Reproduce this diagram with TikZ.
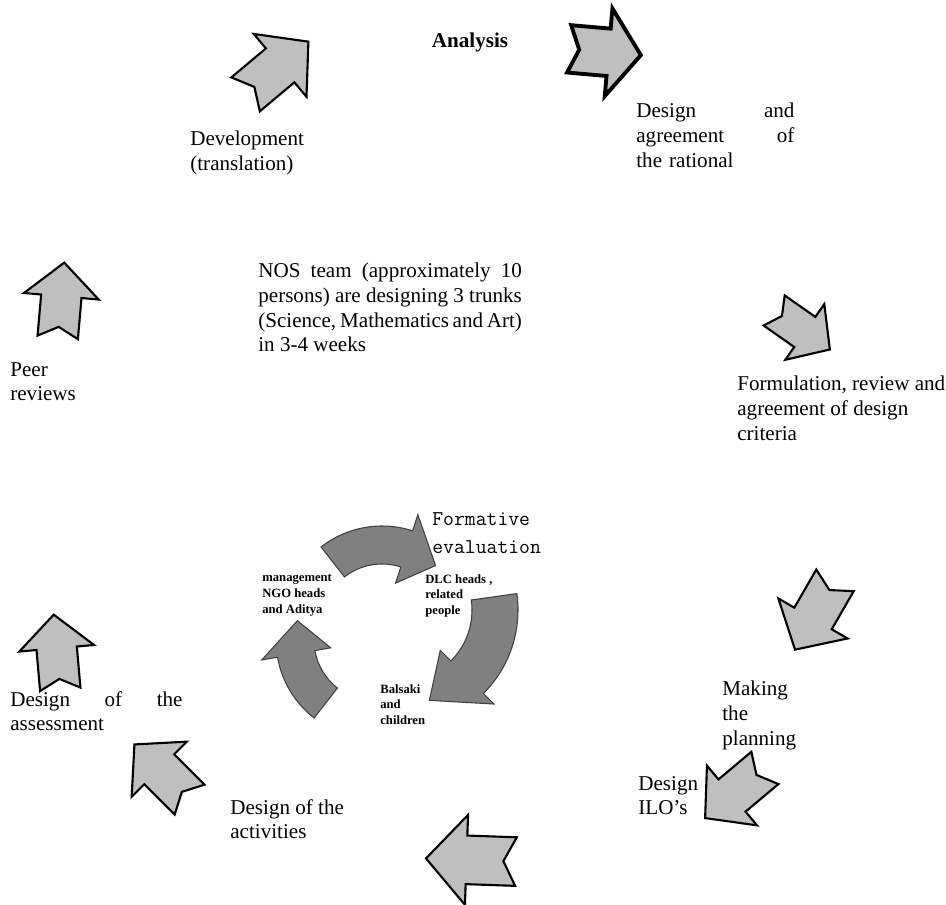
\documentclass[tikz,border=0pt]{standalone}
\usepackage{fontspec}
\setmainfont{Liberation Serif}
\usetikzlibrary{positioning}

% block arrow with a short notched shaft, pointing along +x
\tikzset{
  stubarrow/.pic={
    \path[pic actions] (0.5,0) -- (0.05,0.5) -- (0.05,0.27) -- (-0.5,0.27)
      -- (-0.36,0) -- (-0.5,-0.27) -- (0.05,-0.27) -- (0.05,-0.5) -- cycle;
  },
  steptext/.style={anchor=north west, inner sep=0pt, font=\fontsize{12}{14}\selectfont},
  tinytext/.style={anchor=north west, inner sep=0pt, align=left, font=\fontsize{7.2}{9}\selectfont\bfseries},
  lightarrow/.style={draw=black, line width=1.2pt, fill=black!25, line join=miter},
  darkarrow/.style={draw=black!75, line width=0.6pt, fill=black!50},
}

% curved band arrow: cx, cy, radius, half width, start, end, head half width, tip angle
\newcommand\cyclearrow[8]{%
  \draw[darkarrow, shift={(#1,-#2)}] ({#5}:{#3+#4}) arc[start angle=#5, end angle=#6, radius=#3+#4]
    -- ({#6}:{#3+#7}) -- ({#8}:{#3}) -- ({#6}:{#3-#7}) -- ({#6}:{#3-#4})
    arc[start angle=#6, end angle=#5, radius=#3-#4] -- cycle;}

\begin{document}
\begin{tikzpicture}[x=0.02cm, y=0.02cm]
\useasboundingbox (0,0) rectangle (946,-905);

% outer cycle
\node[steptext, anchor=center, font=\fontsize{12}{14}\selectfont\bfseries] (analysis) at (470,-42) {Analysis};
\node[steptext, text width=90pt, align=left] (rational) at (636,-103) {Design\hfill and\\agreement\hfill of\\the rational};
\node[steptext, align=left] (development) at (190,-131) {Development\\(translation)};
\node[steptext, text width=150pt, align=justify] (nosteam) at (258,-263) {NOS team (approximately 10 persons) are designing 3 trunks (Science, Mathematics and Art) in 3-4 weeks};
\node[steptext, align=left] (peer) at (10,-362) {Peer\\reviews};
\node[steptext, align=left] (criteria) at (737,-376) {Formulation, review and\\agreement of design\\criteria};
\node[steptext, text width=98pt, align=left] (assessment) at (10,-691) {Design\hfill of\hfill the\\assessment};
\node[steptext, align=left] (planning) at (722,-681) {Making\\the\\planning};
\node[steptext, align=left] (ilos) at (638,-776) {Design\\ILO’s};
\node[steptext, align=left] (activities) at (230,-799) {Design of the\\activities};

\pic[lightarrow, rotate=40, scale=82] (arrA) at (277,-68) {stubarrow};
\pic[lightarrow, line width=2.2pt, rotate=-5, xscale=72, yscale=88] (arrB) at (605,-52) {stubarrow};
\pic[lightarrow, rotate=-35, scale=68] (arrC) at (802,-330) {stubarrow};
\pic[lightarrow, rotate=-120, scale=80] (arrD) at (815,-615) {stubarrow};
\pic[lightarrow, rotate=-140, scale=78] (arrE) at (735,-793) {stubarrow};
\pic[lightarrow, rotate=178, scale=90] (arrF) at (471,-860) {stubarrow};
\pic[lightarrow, rotate=135, scale=78] (arrG) at (162,-772) {stubarrow};
\pic[lightarrow, rotate=95, scale=75] (arrH) at (57,-652) {stubarrow};
\pic[lightarrow, rotate=85, scale=75] (arrI) at (61,-300) {stubarrow};

% inner cycle
\cyclearrow{382}{625}{80}{19}{128}{72}{36}{48}
\cyclearrow{400}{610}{95}{23}{8}{-45}{38}{-72}
\cyclearrow{375}{640}{80}{19}{232}{190}{35}{166}

\node[anchor=north west, inner sep=0pt, align=left, font=\ttfamily\fontsize{12}{16}\selectfont] (formative) at (432,-512) {Formative\\evaluation};
\node[tinytext] (mgmt) at (262,-574) {management\\NGO heads\\and Aditya};
\node[tinytext] (dlc) at (425,-574) {DLC heads ,\\related\\people};
\node[tinytext] (balsaki) at (380,-684) {Balsaki\\and\\children};
\end{tikzpicture}
\end{document}
